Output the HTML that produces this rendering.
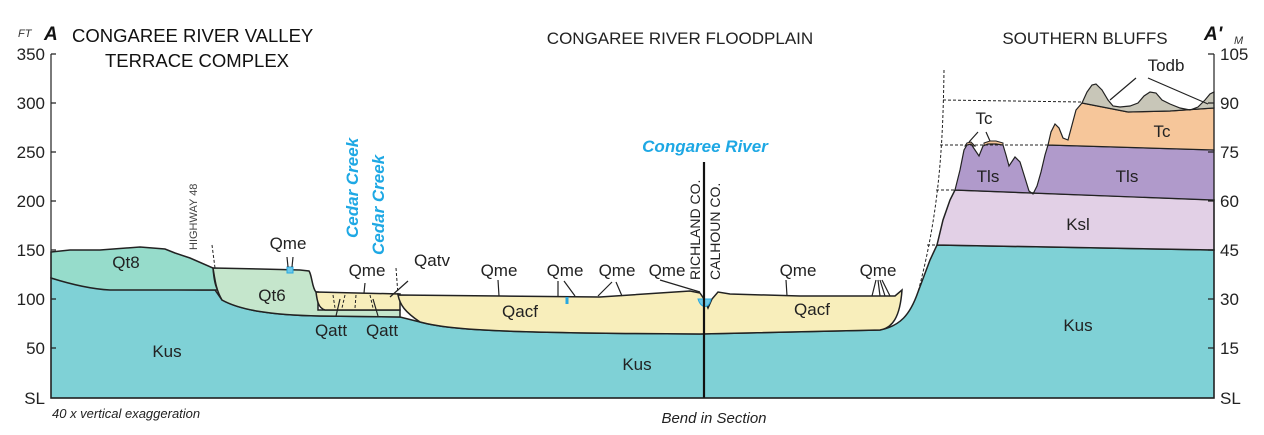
<!DOCTYPE html>
<html><head><meta charset="utf-8"><style>
html,body{margin:0;padding:0;background:#fff;}
svg{display:block;font-family:"Liberation Sans","DejaVu Sans",sans-serif;}
</style></head><body>
<svg width="1264" height="435" viewBox="0 0 1264 435" xmlns="http://www.w3.org/2000/svg">
<!-- Kus base -->
<path d="M51,278 C80,286 110,290 215,290 L222,300 C240,310 270,315 320,316 L400,317 L420,322 C450,330 500,333 700,334 L880,330 C900,326 910,315 918,292 L930,260 L937,245 L1214,250 L1214,398 L51,398 Z" fill="#7fd1d6" stroke="#222" stroke-width="1.5"/>
<!-- Qt8 -->
<path d="M51,252 L70,250 L100,250 L140,247 L165,249 L175,253 L190,258 L213,268 C214,280 216,288 218,290 L110,290 C90,289 70,284 51,278 Z" fill="#96dccb" stroke="#222" stroke-width="1.5"/>
<!-- Qt6 -->
<path d="M213,268 L260,269 L300,270 L309,271 C312,275 312,288 316,292 L318,292 L318,310 L400,310 L400,317 L320,316 C270,315 240,310 222,300 C216,290 215,280 213,268 Z" fill="#c5e6cc" stroke="#222" stroke-width="1.5"/>
<!-- Qatt -->
<path d="M316,292 L400,294 L400,310 L325,310 C318,308 317,300 316,292 Z" fill="#f8eebb" stroke="#222" stroke-width="1.5"/>
<!-- Qacf -->
<path d="M398,295 L500,296 L600,297 L690,291 L700,293 L704,299 L708,308 L712,299 L718,292 L730,294 L800,296 L895,296 L902,290 C900,318 892,328 880,330 L700,334 C500,333 450,330 420,322 C405,312 400,305 398,295 Z" fill="#f8eebb" stroke="#222" stroke-width="1.5"/>
<!-- river water -->
<path d="M698,299 L711,299 C709,309 701,309 698,299 Z" fill="#6cc8e8" stroke="#29a8e0" stroke-width="1"/>
<path d="M567,297 L567,304" stroke="#29a8e0" stroke-width="3"/>
<rect x="287" y="267" width="6" height="6" fill="#6cc8e8" stroke="#29a8e0"/>
<!-- Ksl -->
<path d="M937,245 L943,220 L950,200 L955,190 L1214,200 L1214,250 Z" fill="#e2d0e6" stroke="#222" stroke-width="1.5"/>
<!-- small Tc bumps -->
<path d="M965,146 L967,143 L971,142 L975,146 Z M984,143 L990,141 L996,141 L1003,143 L1003,146 L984,146 Z" fill="#f6c69a" stroke="#222" stroke-width="1"/>
<!-- Tls -->
<path d="M955,190 L960,170 L964,150 L967,145 L971,144 L975,150 L979,156 L983,146 L988,144 L996,144 L1003,145 L1006,155 L1009,166 L1015,157 L1020,162 L1025,178 L1029,191 L1033,194 L1037,186 L1041,172 L1045,155 L1048,145 L1214,150 L1214,200 Z" fill="#b09acb" stroke="#222" stroke-width="1.2"/>
<!-- Tc -->
<path d="M1048,145 L1051,132 L1055,124 L1059,128 L1063,138 L1068,140 L1072,125 L1076,110 L1082,103 L1128,112 L1170,111 L1214,108 L1214,150 Z" fill="#f6c69a" stroke="#222" stroke-width="1.2"/>
<!-- Todb -->
<path d="M1082,103 L1087,92 L1092,85 L1096,84 L1102,90 L1108,100 L1113,106 L1120,107 L1130,106 L1138,103 L1144,96 L1150,92 L1156,93 L1162,100 L1170,104 L1180,108 L1190,110 L1198,107 L1205,100 L1210,94 L1214,92 L1214,108 L1170,111 L1128,112 Z" fill="#c8c6b8" stroke="#222" stroke-width="1.2"/>
<!-- dashed lines -->
<g stroke="#222" stroke-width="1" stroke-dasharray="3,2" fill="none">
<path d="M944,70 C943,140 940,210 918,292"/>
<path d="M943,100 L1082,102"/>
<path d="M940,145 L1048,145"/>
<path d="M936,190 L955,190"/>
<path d="M927,245 L937,245"/>
<path d="M212,245 L215,268"/>
<path d="M396,268 L398,295"/>
<path d="M333,295 L335,308 M345,295 L342,308 M356,295 L355,308 M370,295 L373,308"/>
</g>
<!-- leader lines -->
<g stroke="#222" stroke-width="1.2" fill="none">
<path d="M287,257 L288,267 M293,257 L292,267"/>
<path d="M365,283 L364,293"/>
<path d="M408,281 L390,297"/>
<path d="M340,299 L336,316 M373,299 L378,316"/>
<path d="M498,280 L499,296"/>
<path d="M558,281 L558,296 M564,281 L575,296"/>
<path d="M612,282 L598,296 M616,282 L622,296"/>
<path d="M660,280 L700,292"/>
<path d="M786,280 L787,296"/>
<path d="M876,280 L872,296 M878,280 L880,296 M880,280 L885,296 M882,280 L890,296"/>
<path d="M1136,78 L1110,100 M1148,78 L1208,104"/>
<path d="M978,132 L969,142 M986,132 L990,141"/>
</g>
<!-- county line -->
<path d="M704,162 L704,398" stroke="#111" stroke-width="2.2"/>
<!-- axes -->
<g stroke="#222" stroke-width="1.2" fill="none">
<path d="M51,54 L51,398 L1214,398 L1214,54"/>
<path d="M51,54 L56,54 M51,103 L56,103 M51,152 L56,152 M51,201 L56,201 M51,250 L56,250 M51,299 L56,299 M51,348 L56,348"/>
<path d="M1214,54 L1208,54 M1214,103 L1208,103 M1214,152 L1208,152 M1214,201 L1208,201 M1214,250 L1208,250 M1214,299 L1208,299 M1214,348 L1208,348"/>
</g>
<g font-size="17" fill="#222">
<text x="45" y="60" text-anchor="end">350</text>
<text x="45" y="109" text-anchor="end">300</text>
<text x="45" y="158" text-anchor="end">250</text>
<text x="45" y="207" text-anchor="end">200</text>
<text x="45" y="256" text-anchor="end">150</text>
<text x="45" y="305" text-anchor="end">100</text>
<text x="45" y="354" text-anchor="end">50</text>
<text x="45" y="404" text-anchor="end">SL</text>
<text x="1220" y="60">105</text>
<text x="1220" y="109">90</text>
<text x="1220" y="158">75</text>
<text x="1220" y="207">60</text>
<text x="1220" y="256">45</text>
<text x="1220" y="305">30</text>
<text x="1220" y="354">15</text>
<text x="1220" y="404">SL</text>
</g>
<text x="18" y="37" font-size="11" font-style="italic" fill="#333">FT</text>
<text x="44" y="40" font-size="19" font-weight="bold" font-style="italic" fill="#111">A</text>
<text x="72" y="42" font-size="18.5" fill="#111">CONGAREE RIVER VALLEY</text>
<text x="105" y="67" font-size="18.5" fill="#111">TERRACE COMPLEX</text>
<text x="680" y="44" font-size="17" fill="#222" text-anchor="middle">CONGAREE RIVER FLOODPLAIN</text>
<text x="1085" y="44" font-size="17" fill="#222" text-anchor="middle">SOUTHERN BLUFFS</text>
<text x="1204" y="40" font-size="19" font-weight="bold" font-style="italic" fill="#111">A'</text>
<text x="1234" y="44" font-size="11" font-style="italic" fill="#333">M</text>
<text x="52" y="418" font-size="13" font-style="italic" fill="#222">40 x vertical exaggeration</text>
<text x="714" y="423" font-size="15" font-style="italic" fill="#222" text-anchor="middle">Bend in Section</text>
<text x="705" y="152" font-size="17" font-weight="bold" font-style="italic" fill="#1ea8e4" text-anchor="middle">Congaree River</text>
<text transform="translate(358,238) rotate(-90)" font-size="17" font-weight="bold" font-style="italic" fill="#1ea8e4">Cedar Creek</text>
<text transform="translate(384,255) rotate(-90)" font-size="17" font-weight="bold" font-style="italic" fill="#1ea8e4">Cedar Creek</text>
<text transform="translate(197,250) rotate(-90)" font-size="11" fill="#444">HIGHWAY 48</text>
<text transform="translate(700,280) rotate(-90)" font-size="14" fill="#222">RICHLAND CO.</text>
<text transform="translate(720,280) rotate(-90)" font-size="14" fill="#222">CALHOUN CO.</text>
<g font-size="17" fill="#222" text-anchor="middle">
<text x="126" y="268">Qt8</text>
<text x="272" y="301">Qt6</text>
<text x="288" y="249">Qme</text>
<text x="367" y="276">Qme</text>
<text x="432" y="266">Qatv</text>
<text x="331" y="336">Qatt</text>
<text x="382" y="336">Qatt</text>
<text x="167" y="357">Kus</text>
<text x="520" y="317">Qacf</text>
<text x="499" y="276">Qme</text>
<text x="565" y="276">Qme</text>
<text x="617" y="276">Qme</text>
<text x="667" y="276">Qme</text>
<text x="798" y="276">Qme</text>
<text x="878" y="276">Qme</text>
<text x="812" y="315">Qacf</text>
<text x="637" y="370">Kus</text>
<text x="1078" y="331">Kus</text>
<text x="1078" y="230">Ksl</text>
<text x="1127" y="182">Tls</text>
<text x="988" y="182">Tls</text>
<text x="1162" y="137">Tc</text>
<text x="984" y="124">Tc</text>
<text x="1166" y="71">Todb</text>
</g>
</svg>
</body></html>
